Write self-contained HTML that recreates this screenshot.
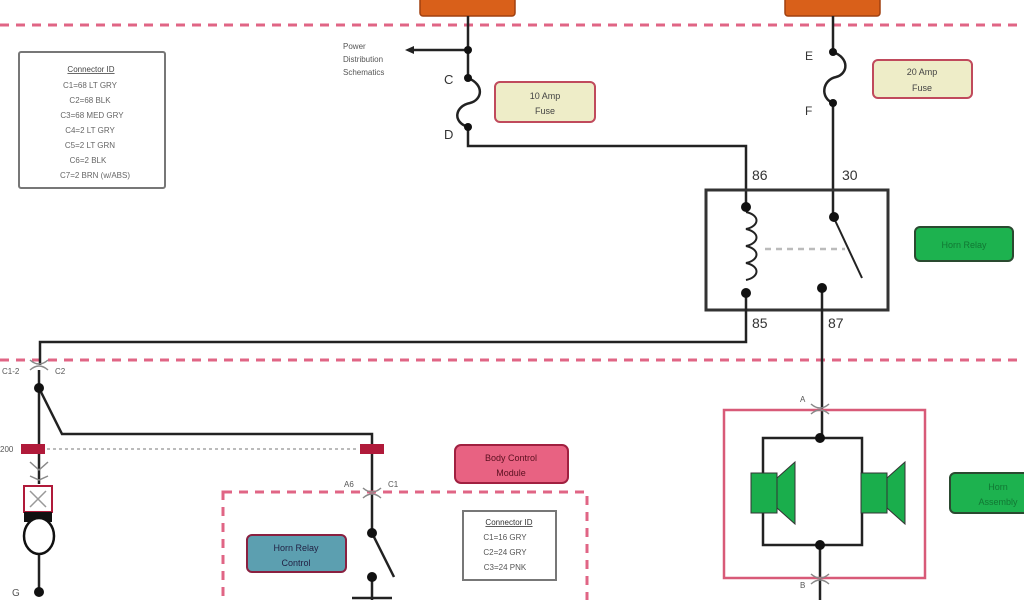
<!DOCTYPE html>
<html><head><meta charset="utf-8"><style>
html,body{margin:0;padding:0;background:#fff;}
svg{display:block;font-family:"Liberation Sans",sans-serif;}
</style></head><body>
<svg width="1024" height="600" viewBox="0 0 1024 600" xmlns="http://www.w3.org/2000/svg">
<rect width="1024" height="600" fill="#fff"/>
<!-- dashed separators -->
<line x1="0" y1="25" x2="1024" y2="25" stroke="#e06585" stroke-width="3" stroke-dasharray="9,7"/>
<line x1="0" y1="360" x2="1024" y2="360" stroke="#e06585" stroke-width="3" stroke-dasharray="9,7"/>
<!-- orange source boxes -->
<rect x="420" y="-6" width="95" height="22" rx="3" fill="#d9601a" stroke="#a04010" stroke-width="1.5"/>
<rect x="785" y="-6" width="95" height="22" rx="3" fill="#d9601a" stroke="#a04010" stroke-width="1.5"/>

<g stroke="#222" stroke-width="2.5" fill="none">
<!-- left fuse circuit -->
<line x1="468" y1="16" x2="468" y2="78"/>
<line x1="468" y1="50" x2="412" y2="50"/>
<path d="M468,78 C485,85 482,100 470,103 C455,106 452,122 468,127"/>
<polyline points="468,127 468,146 746,146 746,206"/>
<!-- right fuse circuit -->
<line x1="833" y1="16" x2="833" y2="52"/>
<path d="M833,52 C850,58 848,74 836,77 C822,80 820,98 833,103"/>
<line x1="833" y1="103" x2="833" y2="216"/>
<!-- relay -->
<rect x="706" y="190" width="182" height="120" stroke-width="3" stroke="#333"/>
<path d="M746,212 c14,3 14,14 0,17 c14,3 14,14 0,17 c14,3 14,14 0,17 c14,3 14,14 0,17" stroke-width="2"/>
<line x1="833" y1="216" x2="862" y2="278" stroke-width="2"/>
<polyline points="746,293 746,342 40,342 40,365"/>
<line x1="822" y1="288" x2="822" y2="438"/>
<!-- lower left -->
<line x1="39" y1="370" x2="39" y2="484"/>
<polyline points="39,388 62,434 372,434 372,533"/>
<line x1="39" y1="548" x2="39" y2="592"/>
<line x1="372" y1="533" x2="394" y2="577" stroke-width="2.5"/>
<line x1="372" y1="577" x2="372" y2="600"/>
<line x1="352" y1="598" x2="392" y2="598"/>
<!-- horn assembly wiring -->
<rect x="763" y="438" width="99" height="107"/>
<line x1="820" y1="545" x2="820" y2="600"/>
</g>
<polygon points="405,50 414,46 414,54" fill="#222"/>
<!-- dots -->
<g fill="#111">
<circle cx="468" cy="50" r="4"/><circle cx="468" cy="78" r="4"/><circle cx="468" cy="127" r="4"/>
<circle cx="833" cy="52" r="4"/><circle cx="833" cy="103" r="4"/>
<circle cx="746" cy="207" r="5"/><circle cx="746" cy="293" r="5"/>
<circle cx="834" cy="217" r="5"/><circle cx="822" cy="288" r="5"/>
<circle cx="39" cy="388" r="5"/><circle cx="372" cy="533" r="5"/><circle cx="372" cy="577" r="5"/>
<circle cx="39" cy="592" r="5"/>
<circle cx="820" cy="438" r="5"/><circle cx="820" cy="545" r="5"/>
</g>
<line x1="765" y1="249" x2="845" y2="249" stroke="#bbb" stroke-width="2.5" stroke-dasharray="6,5"/>
<!-- relay labels -->
<g font-size="14" fill="#333">
<text x="752" y="180">86</text><text x="842" y="180">30</text>
<text x="752" y="328">85</text><text x="828" y="328">87</text>
<text x="444" y="84" font-size="13">C</text><text x="444" y="139" font-size="13">D</text>
<text x="805" y="60" font-size="12">E</text><text x="805" y="115" font-size="12">F</text>
</g>
<g font-size="8" fill="#555">
<text x="343" y="49">Power</text><text x="343" y="62">Distribution</text><text x="343" y="75">Schematics</text>
</g>
<!-- fuse labels -->
<rect x="495" y="82" width="100" height="40" rx="5" fill="#eeedc8" stroke="#c04a5c" stroke-width="2"/>
<text x="545" y="99" font-size="9" text-anchor="middle" fill="#444">10 Amp</text>
<text x="545" y="114" font-size="9" text-anchor="middle" fill="#444">Fuse</text>
<rect x="873" y="60" width="99" height="38" rx="5" fill="#eeedc8" stroke="#c04a5c" stroke-width="2"/>
<text x="922" y="75" font-size="9" text-anchor="middle" fill="#444">20 Amp</text>
<text x="922" y="91" font-size="9" text-anchor="middle" fill="#444">Fuse</text>
<rect x="915" y="227" width="98" height="34" rx="5" fill="#1db24f" stroke="#2a4a30" stroke-width="2"/>
<text x="964" y="248" font-size="9" text-anchor="middle" fill="#173">Horn Relay</text>
<!-- connector ID box 1 -->
<rect x="19" y="52" width="146" height="136" rx="2" fill="#fff" stroke="#777" stroke-width="2"/>
<g font-size="8" fill="#666" text-anchor="middle">
<text x="91" y="72" text-decoration="underline" fill="#444">Connector ID</text>
<text x="90" y="88">C1=68 LT GRY</text><text x="90" y="103">C2=68 BLK</text>
<text x="92" y="118">C3=68 MED GRY</text><text x="90" y="133">C4=2 LT GRY</text>
<text x="90" y="148">C5=2 LT GRN</text><text x="88" y="163">C6=2 BLK</text>
<text x="95" y="178">C7=2 BRN (w/ABS)</text>
</g>
<!-- connector C1-2 -->
<path d="M30,360 Q39,368 48,360" stroke="#888" stroke-width="1.5" fill="none"/>
<path d="M30,370 Q39,362 48,370" stroke="#888" stroke-width="1.5" fill="none"/>
<text x="2" y="374" font-size="8" fill="#555">C1-2</text><text x="55" y="374" font-size="8" fill="#555">C2</text>
<!-- splice bars -->
<rect x="21" y="444" width="24" height="10" fill="#b01a3a"/>
<rect x="360" y="444" width="24" height="10" fill="#b01a3a"/>
<text x="0" y="452" font-size="8" fill="#555">200</text>
<line x1="47" y1="449" x2="358" y2="449" stroke="#bbb" stroke-width="2" stroke-dasharray="3,3"/>
<!-- horn switch (left) -->
<path d="M30,462 L39,470 L48,462 M30,476 L39,480 L48,476" stroke="#888" stroke-width="1.5" fill="none"/>
<rect x="24" y="486" width="28" height="26" fill="#fff" stroke="#b01a3a" stroke-width="2"/>
<path d="M30,491 L46,507 M46,491 L30,507" stroke="#999" stroke-width="1.5"/>
<rect x="24" y="512" width="28" height="10" fill="#111"/>
<ellipse cx="39" cy="536" rx="15" ry="18" fill="#fff" stroke="#111" stroke-width="2.5"/>
<text x="12" y="596" font-size="10" fill="#555">G</text>
<!-- BCM -->
<rect x="455" y="445" width="113" height="38" rx="6" fill="#e86282" stroke="#a02040" stroke-width="2"/>
<text x="511" y="461" font-size="9" text-anchor="middle" fill="#5a1020">Body Control</text>
<text x="511" y="476" font-size="9" text-anchor="middle" fill="#5a1020">Module</text>
<rect x="223" y="492" width="364" height="120" fill="none" stroke="#e06585" stroke-width="3" stroke-dasharray="9,7"/>
<path d="M363,488 Q372,496 381,488 M363,498 Q372,490 381,498" stroke="#888" stroke-width="1.5" fill="none"/>
<text x="344" y="487" font-size="8" fill="#555">A6</text><text x="388" y="487" font-size="8" fill="#555">C1</text>
<rect x="247" y="535" width="99" height="37" rx="5" fill="#5c9fb0" stroke="#8a2040" stroke-width="2"/>
<text x="296" y="551" font-size="9" text-anchor="middle" fill="#224">Horn Relay</text>
<text x="296" y="566" font-size="9" text-anchor="middle" fill="#224">Control</text>
<rect x="463" y="511" width="93" height="69" fill="#fff" stroke="#777" stroke-width="2"/>
<g font-size="8" fill="#555" text-anchor="middle">
<text x="509" y="525" text-decoration="underline" fill="#333">Connector ID</text>
<text x="505" y="540">C1=16 GRY</text><text x="505" y="555">C2=24 GRY</text><text x="505" y="570">C3=24 PNK</text>
</g>
<!-- horn assembly -->
<rect x="724" y="410" width="201" height="168" fill="none" stroke="#d85a78" stroke-width="2.5"/>
<path d="M811,404 Q820,412 829,404 M811,414 Q820,406 829,414" stroke="#888" stroke-width="1.5" fill="none"/>
<path d="M811,574 Q820,582 829,574 M811,584 Q820,576 829,584" stroke="#888" stroke-width="1.5" fill="none"/>
<text x="800" y="402" font-size="8" fill="#555">A</text><text x="800" y="588" font-size="8" fill="#555">B</text>
<g fill="#1aae4c" stroke="#333" stroke-width="1">
<rect x="751" y="473" width="26" height="40"/>
<polygon points="777,478 795,462 795,524 777,508"/>
<rect x="861" y="473" width="26" height="40"/>
<polygon points="887,478 905,462 905,524 887,508"/>
</g>
<rect x="950" y="473" width="90" height="40" rx="5" fill="#1db24f" stroke="#2a4a30" stroke-width="2"/>
<text x="998" y="490" font-size="9" text-anchor="middle" fill="#173">Horn</text>
<text x="998" y="505" font-size="9" text-anchor="middle" fill="#173">Assembly</text>
</svg>
</body></html>
